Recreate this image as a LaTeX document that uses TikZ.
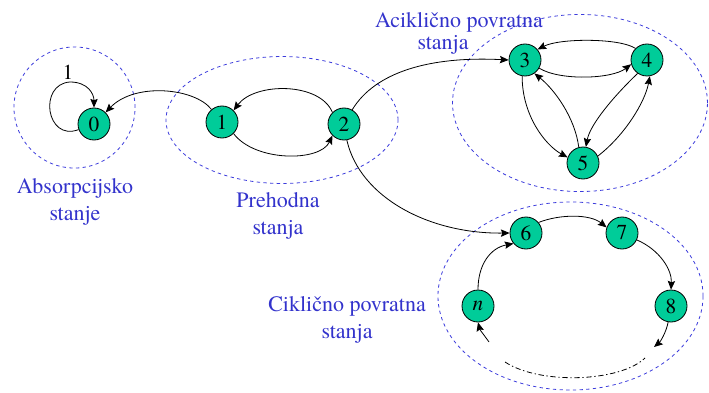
\documentclass[tikz,border=0pt]{standalone}
\usepackage{fontspec}
\setmainfont{texgyretermes}[Extension=.otf, UprightFont=*-regular, ItalicFont=*-italic, BoldFont=*-bold]
\usetikzlibrary{arrows.meta}
\definecolor{stfill}{RGB}{0,204,153}
\definecolor{grpblue}{RGB}{51,51,204}
\definecolor{dashblue}{RGB}{60,60,220}
\tikzset{
  st/.style={circle, draw=black, line width=0.6pt, fill=stfill, minimum size=24pt, inner sep=0pt, font=\fontsize{16}{18}\selectfont},
  tr/.style={line width=0.6pt, -{Stealth[length=6.5pt,width=5.5pt,inset=1pt]}},
  grp/.style={draw=dashblue, line width=0.6pt, dash pattern=on 2.5pt off 2.5pt},
  lbl/.style={text=grpblue, align=center, font=\fontsize{16.5}{20}\selectfont, inner sep=0pt},
}
\begin{document}
\begin{tikzpicture}[x=0.75pt, y=-0.75pt]
\useasboundingbox (0,0) rectangle (709,392);
% groups
\draw[grp] (74.5,107.5) ellipse [x radius=45.4pt, y radius=45.4pt];
\draw[grp] (282,120) ellipse [x radius=87pt, y radius=47.6pt];
\draw[grp] (580,103) ellipse [x radius=95.6pt, y radius=66.4pt];
\draw[grp] (570.5,296) ellipse [x radius=99.4pt, y radius=70.5pt];
% states
\node[st] (n0) at (94,124) {0};
\node[st] (n1) at (222,122) {1};
\node[st] (n2) at (344,124) {2};
\node[st] (n3) at (525,60) {3};
\node[st] (n4) at (647,60) {4};
\node[st] (n5) at (583,163) {5};
\node[st] (n6) at (526,233) {6};
\node[st] (n7) at (622,233) {7};
\node[st] (n8) at (671,306) {8};
\node[st] (nn) at (478,306) {\itshape n};
% labels
\node[lbl] (lab0) at (75,202) {Absorpcijsko\\stanje};
\node[lbl] (labp) at (278,216) {Prehodna\\stanja};
\node[lbl] (laba1) at (459,22) {Aciklično povratna};
\node[lbl] (laba2) at (443,45) {stanja};
\node[lbl] (labc) at (347,320) {Ciklično povratna\\stanja};
\node[font=\fontsize{16}{18}\selectfont, inner sep=0pt] (one) at (68,72) {1};
% self loop
\draw[tr] (n0.200) .. controls (46,142) and (38,84) .. (70,82) .. controls (88,82) and (94,94) .. (n0.north);
% transient
\draw[tr] (n1.130) .. controls (195,88) and (135,82) .. (n0.45);
\draw[tr] (n2.135) .. controls (320,82) and (255,82) .. (n1.45);
\draw[tr] (n1.-45) .. controls (255,162) and (320,162) .. (n2.-135);
\draw[tr] (n2.60) .. controls (375,72) and (430,56) .. (n3.180);
\draw[tr] (n2.-80) .. controls (360,198) and (430,234) .. (n6.180);
% acyclic recurrent
\draw[tr] (n4.135) .. controls (620,38) and (560,38) .. (n3.40);
\draw[tr] (n3.-30) .. controls (560,81) and (612,79) .. (n4.195);
\draw[tr] (n3.-100) .. controls (522,115) and (545,145) .. (n5.160);
\draw[tr] (n5.105) .. controls (575,118) and (555,90) .. (n3.-55);
\draw[tr] (n4.-125) .. controls (612,98) and (590,125) .. (n5.80);
\draw[tr] (n5.25) .. controls (625,135) and (645,102) .. (n4.-80);
% cyclic recurrent
\coordinate (c8) at (654,347);
\coordinate (cn) at (489,342);
\draw[tr] (n6.40) .. controls (560,214) and (590,214) .. (n7.160);
\draw[tr] (n7.-25) .. controls (660,250) and (672,270) .. (n8.90);
\draw[tr] (nn.90) .. controls (478,265) and (490,248) .. (n6.-140);
\draw[tr] (n8.-100) .. controls (666,333) and (660,342) .. (c8);
\draw[tr] (cn) .. controls (484,335) and (480,330) .. (nn.-90);
\draw[line width=0.6pt, dash pattern=on 4pt off 2pt on 1pt off 2pt] (505,362) .. controls (540,385) and (620,382) .. (645,358);
\end{tikzpicture}
\end{document}
